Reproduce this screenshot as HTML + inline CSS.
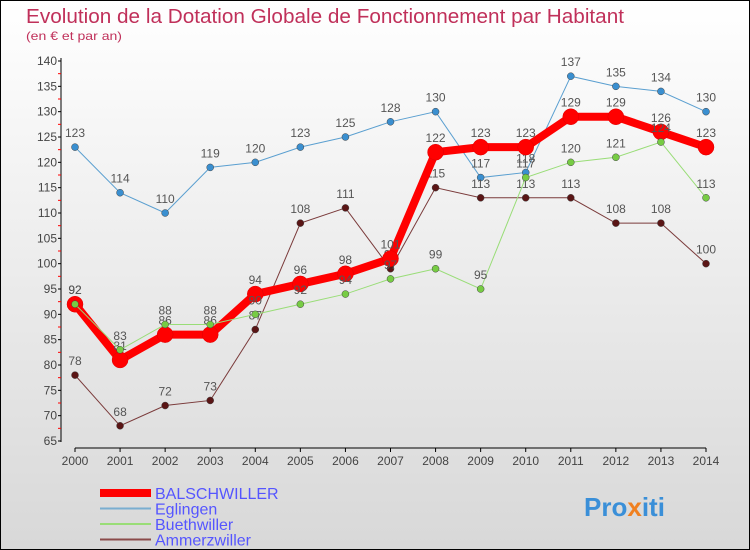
<!DOCTYPE html>
<html><head><meta charset="utf-8"><style>
body{margin:0}
#c{width:750px;height:550px;position:relative;box-sizing:border-box;border:1px solid #000;background:linear-gradient(#ffffff,#d8d8d8);font-family:"Liberation Sans",sans-serif;overflow:hidden}
</style></head><body>
<div id="c">
<svg id="s" width="750" height="550" style="position:absolute;left:-1px;top:-1px">
<text x="26" y="23" font-size="20" fill="#c0305a" textLength="598" lengthAdjust="spacingAndGlyphs">Evolution de la Dotation Globale de Fonctionnement par Habitant</text>
<text x="26" y="40" font-size="12" fill="#c0305a" textLength="96" lengthAdjust="spacingAndGlyphs">(en € et par an)</text>
<g id="axes"></g><g id="series"></g><g id="legend"></g>
<text x="584" y="516" font-size="26" font-weight="bold" fill="#3a8fd8">Pro<tspan fill="#f08020">x</tspan>iti</text>
</svg>
</div>
<script>
const years=[2000,2001,2002,2003,2004,2005,2006,2007,2008,2009,2010,2011,2012,2013,2014];
const balschwiller=[92,81,86,86,94,96,98,101,122,123,123,129,129,126,123];
const eglingen=[123,114,110,119,120,123,125,128,130,117,118,137,135,134,130];
const buethwiller=[92,83,88,88,90,92,94,97,99,95,117,120,121,124,113];
const ammerzwiller=[78,68,72,73,87,108,111,99,115,113,113,113,108,108,100];
const yTicks=[65,70,75,80,85,90,95,100,105,110,115,120,125,130,135,140];
const NS="http://www.w3.org/2000/svg";
const X=i=>75+i*(706-75)/(years.length-1);
const Y=v=>441-(v-65)*(380/75);
function mk(tag,attrs,parent){const e=document.createElementNS(NS,tag);for(const k in attrs)e.setAttribute(k,attrs[k]);parent.appendChild(e);return e;}
const axes=document.getElementById('axes');
let a=mk('line',{x1:61,y1:58,x2:61,y2:442,stroke:'#000'},axes);

a=mk('line',{x1:75,y1:448,x2:706,y2:448,stroke:'#000'},axes);

yTicks.forEach((v,i)=>{
  mk('line',{x1:58,y1:Y(v),x2:61,y2:Y(v),stroke:'#000'},axes);
  if(i<yTicks.length-1)mk('line',{x1:58,y1:Y(v+2.5),x2:61,y2:Y(v+2.5),stroke:'#f00'},axes);
  const t=mk('text',{x:57,y:Y(v)+4,'font-size':12,'text-anchor':'end',fill:'#444'},axes);t.textContent=v;
  
});
years.forEach((y,i)=>{
  mk('line',{x1:X(i),y1:448,x2:X(i),y2:452,stroke:'#000'},axes);
  const t=mk('text',{x:X(i),y:465,'font-size':12,'text-anchor':'middle',fill:'#444'},axes);t.textContent=y;
  
});
const ser=document.getElementById('series');
const defs=[
 {d:eglingen,c:'#5a9fd0',w:1,r:3.5,f:'#3a8fd0',n:'eglingen'},
 {d:ammerzwiller,c:'#7a3a3a',w:1,r:3.5,f:'#5a1515',n:'ammerzwiller'},
 {d:balschwiller,c:'#f00',w:8,r:8,f:'#f00',n:'balschwiller'},
 {d:buethwiller,c:'#99dd77',w:1,r:3.5,f:'#77cc44',n:'buethwiller'}
];
defs.forEach(s=>{
  const g=mk('g',{},ser);
  
  const l=mk('polyline',{points:s.d.map((v,i)=>X(i)+','+Y(v)).join(' '),fill:'none',stroke:s.c,'stroke-width':s.w},g);
  
  s.d.forEach((v,i)=>{
    const p=mk('circle',{cx:X(i),cy:Y(v),r:s.r,fill:s.f,stroke:s.w>1?'#d00':'#444','stroke-width':0.5},g);
    
    const t=mk('text',{x:X(i),y:Y(v)-10,'font-size':12,'text-anchor':'middle',fill:'#555'},g);t.textContent=v;
    
  });
});
const leg=document.getElementById('legend');
[['BALSCHWILLER','#f00',8],['Eglingen','#7aaed0',2],['Buethwiller','#99dd77',2],['Ammerzwiller','#8a4a4a',2]].forEach((e,i)=>{
  const y=493+i*15.5;
  const g=mk('g',{},leg);
  
  mk('line',{x1:100,y1:y,x2:151,y2:y,stroke:e[1],'stroke-width':e[2]},g);
  const t=mk('text',{x:155,y:y+6,'font-size':16,fill:'#5555ff'},g);t.textContent=e[0];
});
</script>
</body></html>
